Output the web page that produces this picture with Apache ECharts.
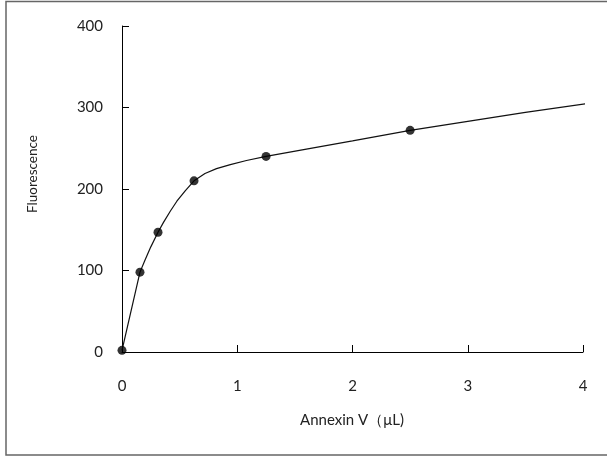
<!DOCTYPE html>
<html>
<head>
<meta charset="utf-8">
<script src="https://cdn.jsdelivr.net/npm/echarts@6/dist/echarts.min.js"></script>
<style>
  html, body { margin: 0; padding: 0; background: #fff; }
  #chart { width: 607px; height: 457px; }
</style>
</head>
<body>
<div id="chart"></div>
<script>
// Measured fluorescence for each Annexin V volume
const annexinVolume = [0, 0.156, 0.3125, 0.625, 1.25, 2.5];
const fluorescence = [2, 98, 147, 210, 240, 272];

// Fitted binding curve, traced as (volume, fluorescence) pairs
const curveVolume = [0, 0.156, 0.2, 0.25, 0.3125, 0.36, 0.42, 0.476, 0.55, 0.625, 0.72, 0.82, 0.94, 1.08, 1.25, 1.6, 2.0, 2.5, 3.0, 3.5, 4.05];
const curveFluorescence = [2, 98, 113, 129, 147, 159, 173, 185, 198, 210, 219, 225, 230, 235, 240, 249, 259, 272, 283, 294, 305];

const xTicks = [0, 1, 2, 3, 4];
const yTicks = [0, 100, 200, 300, 400];

const xTitle = 'Annexin V（μL)';
const yTitle = 'Fluorescence';

const FONT = 'Lato, "Noto Sans", sans-serif';

const chart = echarts.init(document.getElementById('chart'), null, { renderer: 'canvas' });

chart.setOption({
  animation: false,
  backgroundColor: '#ffffff',
  grid: { left: 122, right: 24, top: 26, bottom: 105 },
  xAxis: {
    type: 'value',
    min: xTicks[0],
    max: xTicks[xTicks.length - 1],
    interval: 1,
    axisLine: { lineStyle: { color: '#000', width: 1 } },
    axisTick: { inside: true, length: 7, lineStyle: { color: '#000' } },
    axisLabel: { margin: 27, color: '#222', fontSize: 15, fontFamily: FONT },
    splitLine: { show: false }
  },
  yAxis: {
    type: 'value',
    min: yTicks[0],
    max: yTicks[yTicks.length - 1],
    interval: 100,
    axisLine: { show: true, lineStyle: { color: '#000', width: 1 } },
    axisTick: { show: true, inside: true, length: 7, lineStyle: { color: '#000' } },
    axisLabel: { margin: 19, color: '#222', fontSize: 15, fontFamily: FONT },
    splitLine: { show: false }
  },
  graphic: [
    {
      type: 'rect',
      shape: { x: 6, y: 1.5, width: 640, height: 453.5 },
      style: { fill: 'none', stroke: '#666', lineWidth: 1.5 },
      silent: true
    },
    {
      type: 'text',
      x: 352,
      y: 420,
      style: {
        text: xTitle,
        font: '15px ' + FONT,
        fill: '#222',
        textAlign: 'center',
        textVerticalAlign: 'middle'
      }
    },
    {
      type: 'text',
      x: 33,
      y: 174,
      rotation: Math.PI / 2,
      style: {
        text: yTitle,
        font: '13.5px ' + FONT,
        fill: '#222',
        textAlign: 'center',
        textVerticalAlign: 'middle'
      }
    }
  ],
  series: [
    {
      type: 'line',
      data: curveVolume.map((v, i) => [v, curveFluorescence[i]]),
      smooth: false,
      showSymbol: false,
      clip: false,
      lineStyle: { color: '#111', width: 1.2 },
      z: 2
    },
    {
      type: 'scatter',
      data: annexinVolume.map((v, i) => [v, fluorescence[i]]),
      symbol: 'circle',
      symbolSize: 9,
      clip: false,
      itemStyle: { color: '#000' },
      z: 3
    }
  ]
});
</script>
</body>
</html>
